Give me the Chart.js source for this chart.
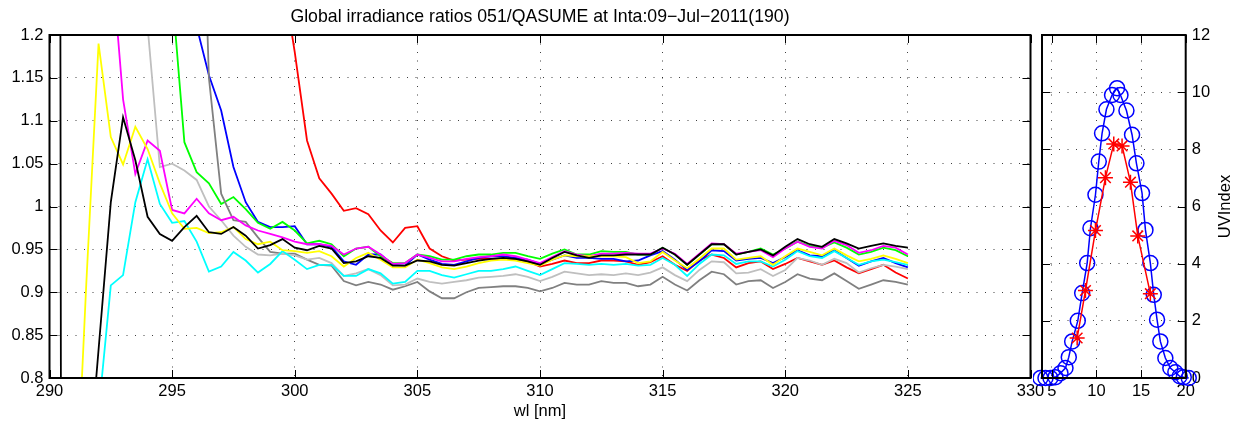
<!DOCTYPE html>
<html>
<head>
<meta charset="utf-8">
<title>Global irradiance ratios 051/QASUME</title>
<script src="https://cdn.jsdelivr.net/npm/chart.js@4.4.0/dist/chart.umd.min.js"></script>
<style>
  html, body { margin: 0; padding: 0; background: #fff; }
  #wrap { position: relative; width: 1247px; height: 430px; overflow: hidden; }
  #ratios { position: absolute; left: 0; top: 0; }
  #uvi { position: absolute; left: 1032.7px; top: 0; }
</style>
</head>
<body>
<div id="wrap">
  <canvas id="ratios" width="1080" height="430"></canvas>
  <canvas id="uvi" width="214" height="430"></canvas>
</div>
<script>
// wavelengths [nm], 0.5 nm step
var wl = [290, 290.5, 291, 291.5, 292, 292.5, 293, 293.5, 294, 294.5, 295, 295.5, 296, 296.5, 297, 297.5, 298, 298.5, 299, 299.5,
  300, 300.5, 301, 301.5, 302, 302.5, 303, 303.5, 304, 304.5, 305, 305.5, 306, 306.5, 307, 307.5, 308, 308.5, 309, 309.5,
  310, 310.5, 311, 311.5, 312, 312.5, 313, 313.5, 314, 314.5, 315, 315.5, 316, 316.5, 317, 317.5, 318, 318.5, 319, 319.5,
  320, 320.5, 321, 321.5, 322, 322.5, 323, 323.5, 324, 324.5, 325];

// ratios, one array per spectrum (null = not shown)
var rBlack = [10, 0.1, 0.4, 0.66, 0.833, 1.005, 1.104, 1.054, 0.988, 0.968, 0.960, 0.976, 0.989, 0.970, 0.968, 0.976, 0.966, 0.951, 0.955, 0.962,
  0.952, 0.949, 0.954, 0.951, 0.934, 0.936, 0.942, 0.940, 0.931, 0.931, 0.937, 0.936, 0.932, 0.931, 0.934, 0.937, 0.939, 0.940, 0.939, 0.936,
  0.932, 0.940, 0.947, 0.943, 0.940, 0.943, 0.943, 0.944, 0.944, 0.944, 0.952, 0.944, 0.932, 0.944, 0.956, 0.956, 0.944, 0.947, 0.950, 0.943,
  0.953, 0.962, 0.956, 0.953, 0.962, 0.957, 0.951, 0.954, 0.957, 0.954, 0.952];
var rYellow = [null, null, 0.6, 0.91, 1.19, 1.081, 1.049, 1.093, 1.067, 1.027, 0.992, 0.974, 0.975, 0.969, 0.970, 0.976, 0.962, 0.956, 0.959, 0.949,
  0.948, 0.946, 0.948, 0.942, 0.930, 0.940, 0.946, 0.938, 0.929, 0.929, 0.938, 0.934, 0.929, 0.927, 0.930, 0.934, 0.937, 0.938, 0.937, 0.934,
  0.931, 0.938, 0.943, 0.942, 0.942, 0.942, 0.942, 0.941, 0.934, 0.936, 0.947, 0.937, 0.928, 0.939, 0.951, 0.951, 0.938, 0.940, 0.942, 0.932,
  0.942, 0.951, 0.947, 0.943, 0.951, 0.943, 0.936, 0.939, 0.943, 0.939, 0.934];
var rMagenta = [null, null, null, null, null, 1.3, 1.125, 1.038, 1.077, 1.065, 0.996, 0.992, 1.009, 0.992, 0.984, 0.988, 0.978, 0.972, 0.968, 0.964,
  0.959, 0.956, 0.956, 0.954, 0.944, 0.951, 0.953, 0.944, 0.933, 0.934, 0.944, 0.940, 0.936, 0.936, 0.939, 0.941, 0.942, 0.944, 0.942, 0.938,
  0.934, 0.941, 0.948, 0.944, 0.942, 0.945, 0.945, 0.946, 0.945, 0.945, 0.951, 0.945, 0.933, 0.945, 0.957, 0.956, 0.945, 0.947, 0.949, 0.941,
  0.951, 0.959, 0.953, 0.951, 0.960, 0.955, 0.946, 0.949, 0.954, 0.952, 0.944];
var rCyan = [null, null, null, 0.6, 0.76, 0.908, 0.92, 1.005, 1.055, 1.003, 0.981, 0.983, 0.959, 0.924, 0.930, 0.947, 0.937, 0.923, 0.933, 0.948,
  0.938, 0.927, 0.932, 0.932, 0.919, 0.919, 0.927, 0.922, 0.910, 0.912, 0.925, 0.925, 0.920, 0.917, 0.921, 0.925, 0.925, 0.927, 0.930, 0.925,
  0.920, 0.927, 0.934, 0.933, 0.932, 0.933, 0.932, 0.933, 0.931, 0.932, 0.940, 0.932, 0.919, 0.933, 0.944, 0.943, 0.933, 0.936, 0.936, 0.930,
  0.938, 0.948, 0.942, 0.940, 0.948, 0.940, 0.932, 0.936, 0.938, 0.935, 0.932];
var rLightGray = [null, null, null, null, null, null, null, 1.5, 1.21, 1.046, 1.05, 1.042, 1.031, 1.0, 0.984, 0.966, 0.953, 0.944, 0.943, 0.945,
  0.943, 0.938, 0.940, 0.934, 0.919, 0.922, 0.927, 0.920, 0.908, 0.909, 0.916, 0.912, 0.910, 0.912, 0.914, 0.917, 0.918, 0.919, 0.921, 0.918,
  0.913, 0.918, 0.924, 0.922, 0.920, 0.921, 0.920, 0.922, 0.920, 0.923, 0.929, 0.920, 0.913, 0.926, 0.936, 0.935, 0.922, 0.923, 0.927, 0.919,
  0.926, 0.940, 0.937, 0.932, 0.939, 0.934, 0.923, 0.928, 0.932, 0.930, 0.927];
var rDarkGray = [null, null, null, null, null, null, null, null, null, null, null, null, 1.6, 1.15, 1.015, 0.984, 0.982, 0.964, 0.947, 0.945,
  0.945, 0.938, 0.932, 0.931, 0.913, 0.908, 0.912, 0.909, 0.903, 0.907, 0.912, 0.901, 0.893, 0.893, 0.900, 0.905, 0.906, 0.907, 0.907, 0.905,
  0.901, 0.905, 0.911, 0.909, 0.909, 0.913, 0.911, 0.911, 0.907, 0.909, 0.918, 0.909, 0.902, 0.914, 0.924, 0.921, 0.909, 0.913, 0.914, 0.905,
  0.912, 0.921, 0.916, 0.914, 0.922, 0.913, 0.904, 0.909, 0.914, 0.912, 0.909];
var rGreen = [null, null, null, null, null, null, null, null, null, null, 1.25, 1.075, 1.04, 1.027, 1.003, 1.011, 0.997, 0.981, 0.974, 0.982,
  0.972, 0.957, 0.960, 0.956, 0.942, 0.951, 0.953, 0.942, 0.934, 0.934, 0.944, 0.942, 0.938, 0.938, 0.942, 0.944, 0.944, 0.946, 0.946, 0.942,
  0.939, 0.945, 0.950, 0.944, 0.944, 0.948, 0.947, 0.947, 0.944, 0.944, 0.952, 0.944, 0.932, 0.944, 0.956, 0.956, 0.944, 0.947, 0.951, 0.944,
  0.951, 0.959, 0.954, 0.952, 0.958, 0.952, 0.944, 0.947, 0.952, 0.949, 0.942];
var rBlue = [null, null, null, null, null, null, null, null, null, null, null, 1.4, 1.21, 1.153, 1.112, 1.046, 1.005, 0.982, 0.976, 0.976,
  0.977, 0.956, 0.956, 0.953, 0.936, 0.932, 0.944, 0.944, 0.932, 0.931, 0.944, 0.938, 0.933, 0.932, 0.936, 0.940, 0.942, 0.942, 0.940, 0.938,
  0.933, 0.938, 0.943, 0.940, 0.940, 0.939, 0.939, 0.936, 0.937, 0.943, 0.948, 0.938, 0.926, 0.936, 0.949, 0.948, 0.937, 0.939, 0.940, 0.934,
  0.941, 0.949, 0.943, 0.942, 0.949, 0.940, 0.931, 0.936, 0.940, 0.934, 0.929];
var rRed = [null, null, null, null, null, null, null, null, null, null, null, null, null, null, null, null, null, null, null, 1.27,
  1.18, 1.077, 1.033, 1.015, 0.995, 0.998, 0.991, 0.972, 0.958, 0.975, 0.977, 0.951, 0.942, 0.937, 0.938, 0.939, 0.939, 0.939, 0.939, 0.936,
  0.930, 0.933, 0.937, 0.934, 0.934, 0.937, 0.937, 0.936, 0.932, 0.935, 0.942, 0.932, 0.925, 0.937, 0.944, 0.940, 0.929, 0.934, 0.936, 0.927,
  0.933, 0.940, 0.936, 0.932, 0.937, 0.929, 0.922, 0.927, 0.932, 0.923, 0.916];

var wlTicks = [290, 295, 300, 305, 310, 315, 320, 325, 330];
var ratioTicks = [0.8, 0.85, 0.9, 0.95, 1, 1.05, 1.1, 1.15, 1.2];

// UV index over the day (hours)
var uvHours = [3.73, 4.29, 4.85, 5.41, 5.97, 6.53, 6.9, 7.28, 7.91, 8.4, 8.96, 9.33, 9.89, 10.26, 10.63, 11.12, 11.75, 12.31, 12.69,
  13.36, 13.99, 14.48, 15.11, 15.49, 16.04, 16.42, 16.79, 17.16, 17.72, 18.28, 18.84, 19.33, 19.78, 20.34];
var uvBlue = [0, 0, 0, 0.03, 0.17, 0.35, 0.73, 1.28, 2.0, 2.97, 4.02, 5.24, 6.41, 7.57, 8.56, 9.4, 9.9, 10.14, 9.9,
  9.36, 8.51, 7.51, 6.47, 5.18, 4.02, 2.91, 2.04, 1.28, 0.7, 0.35, 0.2, 0.06, 0.03, 0];
var uvRedHours = [7.84, 8.77, 9.89, 11.01, 11.94, 12.87, 13.81, 14.63, 16.04];
var uvRed = [1.4, 3.06, 5.16, 7.01, 8.19, 8.12, 6.85, 4.97, 2.95];

var hourTicks = [5, 10, 15, 20];
var uvTicks = [0, 2, 4, 6, 8, 10, 12];

var fontFam = "'Liberation Sans', Arial, Helvetica, sans-serif";

function pts(xs, ys) {
  return xs.map(function (x, i) { return { x: x, y: ys[i] }; });
}
function fixTicks(list) {
  return function (scale) {
    scale.ticks = list.map(function (v) { return { value: v }; });
  };
}
function fixHeight(h) {
  return function (s) { s.height = h; };
}

// box around the axes + inward tick marks, matlab style
var framePlugin = {
  id: 'frame',
  afterDatasetsDraw: function (chart, args, opts) {
    var a = chart.chartArea, c = chart.ctx;
    var xs = chart.scales.x, ys = chart.scales[opts.yId];
    c.save();
    c.strokeStyle = '#000';
    c.lineWidth = 1;
    c.beginPath();
    xs.ticks.forEach(function (t) {
      var px = Math.round(xs.getPixelForValue(t.value)) + 0.5;
      c.moveTo(px, a.bottom); c.lineTo(px, a.bottom - 8);
      c.moveTo(px, a.top); c.lineTo(px, a.top + 8);
    });
    ys.ticks.forEach(function (t) {
      var py = Math.round(ys.getPixelForValue(t.value)) + 0.5;
      c.moveTo(a.left, py); c.lineTo(a.left + 8, py);
      c.moveTo(a.right, py); c.lineTo(a.right - 8, py);
    });
    c.stroke();
    c.lineWidth = 2;
    c.strokeRect(a.left, a.top, a.right - a.left, a.bottom - a.top);
    c.restore();
  }
};

var gridOpts = { color: 'rgba(0,0,0,0.75)', lineWidth: 1, drawTicks: false };
var borderOpts = { display: false, dash: [1, 7.5] };

function line(label, color, ys) {
  return {
    label: label,
    data: pts(wl, ys),
    borderColor: color,
    backgroundColor: color,
    borderWidth: 1.8,
    pointRadius: 0,
    tension: 0,
    spanGaps: false
  };
}

new Chart(document.getElementById('ratios').getContext('2d'), {
  type: 'line',
  data: {
    datasets: [
      line('black', '#000000', rBlack),
      line('yellow', '#ffff00', rYellow),
      line('magenta', '#ff00ff', rMagenta),
      line('cyan', '#00ffff', rCyan),
      line('lightgray', '#bfbfbf', rLightGray),
      line('darkgray', '#808080', rDarkGray),
      line('green', '#00ff00', rGreen),
      line('blue', '#0000ff', rBlue),
      line('red', '#ff0000', rRed)
    ]
  },
  options: {
    responsive: false,
    animation: false,
    devicePixelRatio: 1,
    layout: { padding: 0 },
    plugins: {
      legend: { display: false },
      tooltip: { enabled: false },
      title: {
        display: true,
        text: 'Global irradiance ratios 051/QASUME at Inta:09\u2212Jul\u22122011(190)',
        color: '#000',
        font: { family: fontFam, size: 17.7, weight: 'normal' },
        padding: { top: 6, bottom: 7.76 }
      },
      frame: { yId: 'y' }
    },
    scales: {
      x: {
        type: 'linear',
        min: 290,
        max: 330,
        afterBuildTicks: fixTicks(wlTicks),
        afterFit: fixHeight(52),
        grid: gridOpts,
        border: borderOpts,
        ticks: {
          color: '#000',
          padding: 4,
          maxRotation: 0,
          font: { family: fontFam, size: 16.5 }
        },
        title: {
          display: true,
          text: 'wl [nm]',
          color: '#000',
          font: { family: fontFam, size: 16.5 },
          padding: { top: 0, bottom: 9 }
        }
      },
      y: {
        position: 'left',
        min: 0.8,
        max: 1.2,
        afterBuildTicks: fixTicks(ratioTicks),
        afterFit: function (s) { s.width = 49.5; },
        grid: gridOpts,
        border: borderOpts,
        ticks: {
          color: '#000',
          padding: 6,
          font: { family: fontFam, size: 16.5 },
          callback: function (v) { return String(Math.round(v * 100) / 100); }
        }
      },
      yR: {
        position: 'right',
        min: 0,
        max: 1,
        afterFit: function (s) { s.width = 49.5; },
        grid: { display: false },
        border: { display: false },
        ticks: { display: false }
      }
    }
  },
  plugins: [framePlugin]
});

var uviLabel = {
  id: 'uviLabel',
  afterDraw: function (chart) {
    var c = chart.ctx, a = chart.chartArea;
    c.save();
    c.translate(a.right + 40, (a.top + a.bottom) / 2);
    c.rotate(-Math.PI / 2);
    c.fillStyle = '#000';
    c.font = '16.5px ' + fontFam;
    c.textAlign = 'center';
    c.textBaseline = 'middle';
    c.fillText('UVIndex', 0, 0);
    c.restore();
  }
};

new Chart(document.getElementById('uvi').getContext('2d'), {
  type: 'line',
  data: {
    datasets: [
      {
        label: 'UVI 051',
        data: pts(uvRedHours, uvRed),
        borderColor: '#ff0000',
        backgroundColor: '#ff0000',
        borderWidth: 1.5,
        pointStyle: 'star',
        pointRadius: 7.5,
        pointBorderWidth: 1.5,
        tension: 0
      },
      {
        label: 'UVI QASUME',
        data: pts(uvHours, uvBlue),
        borderColor: '#0000ff',
        backgroundColor: 'rgba(0,0,0,0)',
        borderWidth: 1.5,
        pointStyle: 'circle',
        pointRadius: 7.5,
        pointBorderWidth: 1.5,
        tension: 0,
        clip: false
      }
    ]
  },
  options: {
    responsive: false,
    animation: false,
    devicePixelRatio: 1,
    layout: { padding: { left: 5.7, top: 35, right: 0, bottom: 0 } },
    plugins: {
      legend: { display: false },
      tooltip: { enabled: false },
      frame: { yId: 'y' }
    },
    scales: {
      x: {
        type: 'linear',
        min: 3.9,
        max: 20,
        afterBuildTicks: fixTicks(hourTicks),
        afterFit: fixHeight(52),
        grid: gridOpts,
        border: borderOpts,
        ticks: {
          color: '#000',
          padding: 4,
          maxRotation: 0,
          font: { family: fontFam, size: 16.5 }
        }
      },
      y: {
        position: 'right',
        min: 0,
        max: 12,
        afterBuildTicks: fixTicks(uvTicks),
        afterFit: function (s) { s.width = 61.3; },
        grid: gridOpts,
        border: borderOpts,
        ticks: {
          color: '#000',
          padding: 6,
          font: { family: fontFam, size: 16.5 }
        }
      }
    }
  },
  plugins: [framePlugin, uviLabel]
});
</script>
</body>
</html>
